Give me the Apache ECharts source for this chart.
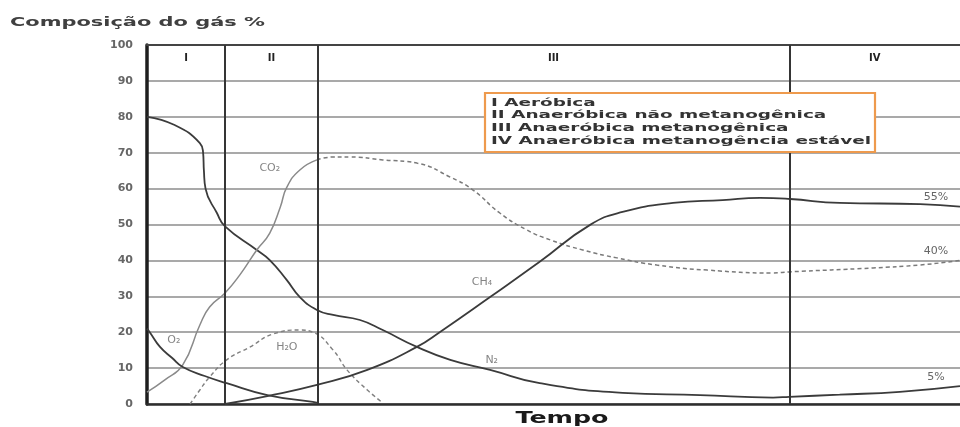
<!DOCTYPE html>
<html>
<head>
<meta charset="utf-8">
<script src="https://cdn.jsdelivr.net/npm/echarts@6/dist/echarts.min.js"></script>
<style>
  html, body { margin: 0; padding: 0; background: #fff; }
  #chart { width: 960px; height: 427px; }
</style>
</head>
<body>
<div id="chart"></div>
<script>
// Landfill gas composition (%) through the four decomposition phases.
const titleText = 'Composição do gás %';
const xName = 'Tempo';

const phaseNumerals = ['I', 'II', 'III', 'IV'];
const phaseNames = [
  'Aeróbica',
  'Anaeróbica não metanogênica',
  'Anaeróbica metanogênica',
  'Anaeróbica metanogência estável'
];
const phaseBounds = [0, 9.6, 21, 79, 100];

// [time, %] pairs for each gas
const n2 = [[0, 80], [3.4, 77.7], [6.5, 72.7], [6.9, 70], [7.0, 65], [7.2, 60], [8.6, 53.2], [9.6, 49.5],
  [13.5, 42.9], [15.1, 40.1], [17.2, 34.5], [18.8, 29.8], [20.9, 26.2], [22.9, 24.8], [26.2, 23.4],
  [29, 20.6], [33.2, 15.9], [37.3, 12.3], [42.2, 9.5], [48.3, 5.8], [58.5, 3.1], [68, 2.5], [77, 1.8],
  [79, 2], [85.2, 2.6], [92.6, 3.4], [100, 5]];
const co2 = [[0, 3.3], [2.2, 6.7], [4.4, 10.9], [6.5, 22], [7.7, 27], [9.6, 30.9], [11.4, 35.9], [13.5, 42.9],
  [15.1, 47.6], [16.4, 54.9], [17.2, 60.4], [18.8, 65.2], [20.9, 68], [22.9, 68.8], [25, 68.8], [29, 68],
  [33.2, 67.1], [37.3, 63.2], [40.1, 59.6], [43.4, 53.2], [46.7, 48.5], [49.6, 45.7], [53.6, 42.9],
  [57.8, 40.7], [62.7, 38.7], [68.9, 37.3], [77, 36.5], [79, 36.8], [89.3, 37.9], [95, 38.7], [100, 40]];
const o2 = [[0, 21], [0.4, 19.8], [1.6, 15.9], [3.1, 12.8], [4.4, 10.3], [7.1, 7.8], [9.8, 5.8],
  [14.8, 2.5], [20.4, 0.6], [21, 0.3]];
const h2o = [[5.3, 0], [6.5, 3.9], [7.7, 7.5], [9.8, 12.3], [12.7, 15.9], [15.5, 19.5], [18.8, 20.6],
  [20.4, 20], [22.9, 15], [24.6, 9.5], [27.1, 3.9], [29, 0.3]];
const ch4 = [[9.6, 0], [14.8, 2.2], [20.9, 5.3], [27.1, 9.5], [33.2, 15.9], [36, 20],
  [42.2, 29.8], [48.3, 39.6], [54.5, 49.9], [58.5, 53.5], [64.7, 56], [70.8, 56.8], [75.4, 57.4],
  [79.1, 57.1], [85.2, 56], [95.1, 55.7], [100, 55]];

// gas name labels: [text, time, %]
const gasLabels = [
  ['CO₂', 15.1, 65.7],
  ['H₂O', 17.2, 15.9],
  ['O₂', 3.3, 17.8],
  ['CH₄', 41.2, 34],
  ['N₂', 42.4, 12.3]
];

const dark = '#3b3b3b';
const grey = '#8a8a8a';
const font = 'DejaVu Sans';

// horizontal stretch that makes a string fill a given width
const measureCtx = document.createElement('canvas').getContext('2d');
function stretchTo(text, css, width) {
  measureCtx.font = css;
  return width / measureCtx.measureText(text).width;
}

// CO2 is drawn solid while rising and dashed after its peak
const co2Split = co2.findIndex(p => p[0] >= 20.9);
const co2Rise = co2.slice(0, co2Split + 1);
const co2Fall = co2.slice(co2Split);

function endMark(data) {
  const last = data[data.length - 1];
  return {
    symbol: 'circle', symbolSize: 0, silent: true,
    label: { show: true, formatter: '{c}%', color: '#666', fontFamily: font, fontSize: 11, offset: [-24, -9] },
    data: [{ coord: last, value: last[1] }]
  };
}

function line(name, data, color, width, type, extra) {
  return Object.assign({
    name, type: 'line', data, showSymbol: false, smooth: 0.5,
    lineStyle: { color, width, type }, silent: true, z: 3
  }, extra || {});
}

const phaseAreas = phaseNumerals.map((p, i) => [
  { xAxis: phaseBounds[i], yAxis: 90, name: p },
  { xAxis: phaseBounds[i + 1], yAxis: 100 }
]);

const titleFont = `bold 13px "${font}"`;
const nameFont = `bold 16px "${font}"`;
const boxFont = `bold 10px "${font}"`;
const boxLines = phaseNumerals.map((p, i) => p + ' ' + phaseNames[i]);
const boxStretch = stretchTo(boxLines[3], boxFont, 380);

const chart = echarts.init(document.getElementById('chart'), null, { renderer: 'canvas' });

const option = {
  animation: false,
  backgroundColor: '#fff',
  grid: { left: 147, right: 0, top: 45, bottom: 23 },
  xAxis: [
    {
      type: 'value', min: 0, max: 100, position: 'bottom',
      axisLine: { show: true, lineStyle: { color: '#2e2e2e', width: 2.5 } },
      axisTick: { show: false }, axisLabel: { show: false }, splitLine: { show: false }
    },
    {
      type: 'value', min: 0, max: 100, position: 'top',
      axisLine: { show: true, lineStyle: { color: '#444', width: 2 } },
      axisTick: { show: false }, axisLabel: { show: false }, splitLine: { show: false }
    }
  ],
  yAxis: {
    type: 'value', min: 0, max: 100, interval: 10,
    axisLine: { show: true, lineStyle: { color: '#1e1e1e', width: 3.5 } },
    axisTick: { show: false },
    axisLabel: { color: '#666', fontFamily: font, fontWeight: 'bold', fontSize: 11, margin: 14 },
    splitLine: { show: true, lineStyle: { color: '#8c8c8c', width: 1.6 } }
  },
  series: [
    line('N₂', n2, dark, 1.8, 'solid', {
      markLine: {
        silent: true, symbol: 'none', label: { show: false },
        lineStyle: { color: '#353535', width: 2, type: 'solid' },
        data: phaseBounds.slice(1, -1).map(b => ({ xAxis: b }))
      },
      markArea: {
        silent: true, itemStyle: { color: 'rgba(0,0,0,0)' },
        label: { show: true, position: 'insideTop', distance: 8, color: '#222', fontFamily: font, fontWeight: 'bold', fontSize: 10 },
        data: phaseAreas
      },
      markPoint: endMark(n2)
    }),
    line('CO₂', co2Rise, grey, 1.5, 'solid'),
    line('CO₂ ', co2Fall, '#7a7a7a', 1.5, [4, 3], { markPoint: endMark(co2) }),
    line('O₂', o2, dark, 1.8, 'solid'),
    line('H₂O', h2o, '#808080', 1.4, [4, 3]),
    line('CH₄', ch4, dark, 1.8, 'solid', { markPoint: endMark(ch4) }),
    {
      type: 'scatter', silent: true, symbolSize: 0, z: 4,
      data: gasLabels.map(g => ({ value: [g[1], g[2]], name: g[0] })),
      label: { show: true, position: 'inside', formatter: p => p.name, color: '#666', fontFamily: font, fontSize: 11 }
    }
  ],
  graphic: [
    {
      type: 'text', x: 10, y: 23, scaleX: stretchTo(titleText, titleFont, 255), z: 10,
      style: { text: titleText, font: titleFont, fill: '#404040', verticalAlign: 'middle' }
    },
    {
      type: 'text', x: 562, y: 419, scaleX: stretchTo(xName, nameFont, 93), z: 10,
      style: { text: xName, font: nameFont, fill: '#1a1a1a', align: 'center', verticalAlign: 'middle' }
    },
    {
      type: 'rect', z: 10,
      shape: { x: 485, y: 93, width: 390, height: 59 },
      style: { fill: '#fff', stroke: '#ee9a4d', lineWidth: 2.2 }
    },
    ...boxLines.map((t, i) => ({
      type: 'text', x: 491, y: 103 + i * 12.8, scaleX: boxStretch, z: 11,
      style: { text: t, font: boxFont, fill: '#333', verticalAlign: 'middle' }
    }))
  ]
};

chart.setOption(option);
</script>
</body>
</html>
